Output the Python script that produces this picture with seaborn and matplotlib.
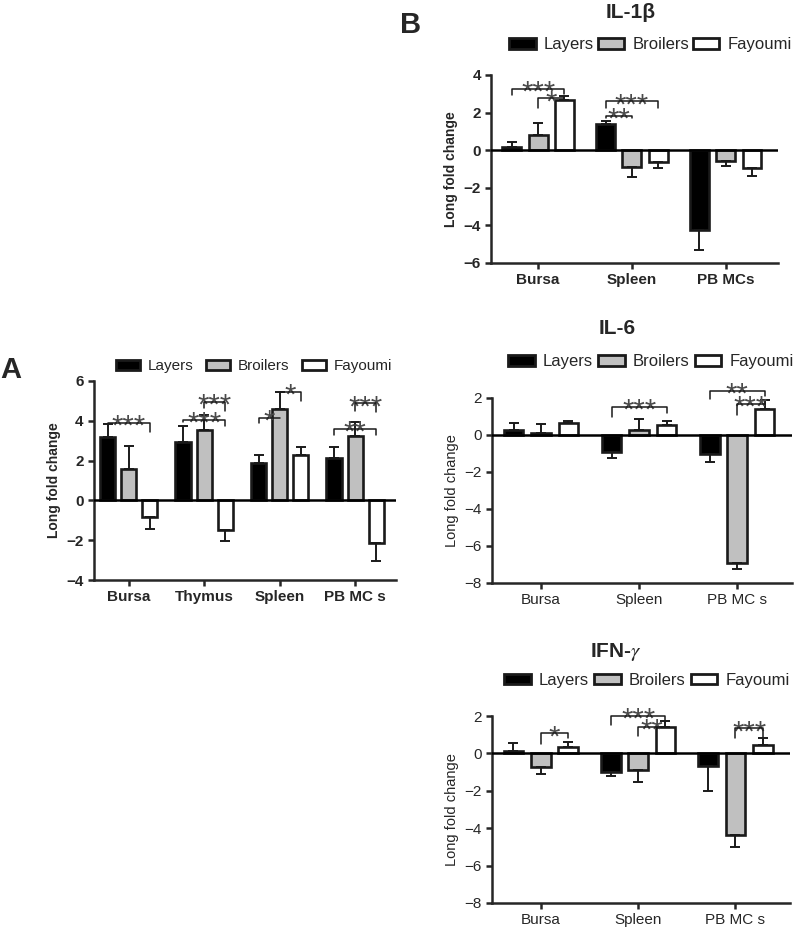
import numpy as np
import pandas as pd
import seaborn as sns
import matplotlib.pyplot as plt
from matplotlib.patches import Patch

sns.set_style("ticks")
plt.rcParams['font.family'] = ['Liberation Sans', 'DejaVu Sans']

breeds = ['Layers', 'Broilers', 'Fayoumi']
colors = ['#000000', '#c0c0c0', '#ffffff']

# Panel A: all tissues
tissues_a = ['Bursa', 'Thymus', 'Spleen', 'PB MC s']
a_layers = [3.17, 2.95, 1.90, 2.12]
a_layers_err = [0.68, 0.78, 0.40, 0.55]
a_broilers = [1.58, 3.55, 4.57, 3.25]
a_broilers_err = [1.17, 0.75, 0.88, 0.70]
a_fayoumi = [-0.82, -1.50, 2.26, -2.14]
a_fayoumi_err = [0.60, 0.54, 0.42, 0.90]

# Panel B: IL-1b
tissues_il1 = ['Bursa', 'Spleen', 'PB MCs']
il1_layers = [0.19, 1.37, -4.23]
il1_layers_err = [0.25, 0.16, 1.09]
il1_broilers = [0.80, -0.92, -0.60]
il1_broilers_err = [0.63, 0.52, 0.23]
il1_fayoumi = [2.69, -0.65, -0.97]
il1_fayoumi_err = [0.17, 0.32, 0.39]

# IL-6
tissues_b = ['Bursa', 'Spleen', 'PB MC s']
il6_layers = [0.27, -0.94, -1.01]
il6_layers_err = [0.40, 0.29, 0.47]
il6_broilers = [0.13, 0.27, -6.90]
il6_broilers_err = [0.47, 0.58, 0.37]
il6_fayoumi = [0.63, 0.54, 1.39]
il6_fayoumi_err = [0.11, 0.20, 0.51]

# IFN-g
ifn_layers = [0.14, -1.00, -0.68]
ifn_layers_err = [0.40, 0.20, 1.32]
ifn_broilers = [-0.75, -0.91, -4.38]
ifn_broilers_err = [0.36, 0.61, 0.62]
ifn_fayoumi = [0.32, 1.43, 0.43]
ifn_fayoumi_err = [0.29, 0.31, 0.41]

# significance brackets: (tissue, from breed, to breed, y, label, left drop, right drop)
a_sig = [(0, 0, 2, 3.9, '***', 0.15, 0.45), (1, 0, 2, 4.06, '***', 0.1, 0.3),
         (1, 1, 2, 4.94, '***', 0.3, 0.45), (2, 0, 1, 4.16, '*', 0.25, 0.0),
         (2, 1, 2, 5.45, '*', 0.0, 0.45), (3, 0, 2, 3.6, '**', 0.3, 0.3),
         (3, 1, 2, 4.87, '***', 0.4, 0.45)]
il1_sig = [(0, 0, 2, 3.26, '***', 0.35, 0.27), (0, 1, 2, 2.75, '*', 0.5, 0.0),
           (1, 0, 2, 2.6, '***', 0.35, 0.35), (1, 0, 1, 1.81, '**', 0.1, 0.12)]
il6_sig = [(1, 0, 2, 1.5, '***', 0.54, 0.3), (2, 0, 2, 2.38, '**', 0.45, 0.3),
           (2, 1, 2, 1.68, '***', 0.6, 0.0)]
ifn_sig = [(0, 1, 2, 1.07, '*', 0.57, 0.27), (1, 0, 2, 2.0, '***', 0.48, 0.3),
           (1, 1, 2, 1.43, '**', 0.5, 0.0), (2, 1, 2, 1.34, '***', 0.5, 0.45)]


def draw_panel(ax, tissues, means, errs, sig, ylim, xlim, bold):
    df = pd.DataFrame({
        'tissue': tissues * 3,
        'breed': [b for b in breeds for _ in tissues],
        'value': np.concatenate(means),
    })
    sns.barplot(data=df, x='tissue', y='value', hue='breed', hue_order=breeds,
                palette=colors, edgecolor='#1a1a1a', linewidth=1.9,
                width=0.84, gap=0.28, errorbar=None, legend=False, ax=ax)
    centers = []
    for cont in list(ax.containers):
        centers.append([p.get_x() + p.get_width() / 2 for p in cont.patches])
    for k, xs in enumerate(centers):
        for x, m, e in zip(xs, means[k], errs[k]):
            yerr = [[0], [e]] if m >= 0 else [[e], [0]]
            ax.errorbar([x], [m], yerr=yerr, fmt='none', ecolor='#1a1a1a',
                        elinewidth=1.4, capsize=3.5, capthick=1.4, zorder=3)
    ax.axhline(0, color='black', lw=1.8, zorder=4)
    for g, i, j, y, lab, dl, dr in sig:
        x1, x2 = centers[i][g], centers[j][g]
        ax.plot([x1, x1, x2, x2], [y - dl, y, y, y - dr], color='#1a1a1a',
                lw=1.1, clip_on=False, zorder=5)
        ax.annotate(lab, xy=((x1 + x2) / 2, y), xytext=(0, -8.5),
                    textcoords='offset points', ha='center', va='baseline',
                    fontsize=21, color='#4a4a4a', annotation_clip=False)
    ax.set_ylim(*ylim)
    ax.set_xlim(*xlim)
    ax.set_yticks(np.arange(ylim[0], ylim[1] + 1, 2))
    w = 'bold' if bold else 'normal'
    ax.set_xlabel('')
    ax.set_ylabel('Long fold change', fontsize=10 if bold else 10.5, fontweight=w)
    ax.tick_params(axis='both', width=1.8, length=4, labelsize=11)
    for t in ax.get_xticklabels() + ax.get_yticklabels():
        t.set_fontweight(w)
    sns.despine(ax=ax)
    for s in ['left', 'bottom']:
        ax.spines[s].set_linewidth(1.8)


def add_legend(ax, x, y, size, spacing):
    handles = [Patch(facecolor=c, edgecolor='#1a1a1a', linewidth=2, label=b)
               for b, c in zip(breeds, colors)]
    ax.legend(handles=handles, loc='center', bbox_to_anchor=(x, y), ncol=3,
              frameon=False, fontsize=size, handlelength=1.6, handleheight=0.6,
              handletextpad=0.5, columnspacing=spacing, borderaxespad=0)


fig = plt.figure(figsize=(8, 9.27), dpi=100)
ax_a = fig.add_axes([0.1175, 0.3743, 0.3775, 0.2147])
ax_il1 = fig.add_axes([0.614, 0.7163, 0.3588, 0.2028])
ax_il6 = fig.add_axes([0.615, 0.3711, 0.375, 0.1996])
ax_ifn = fig.add_axes([0.615, 0.0259, 0.3725, 0.2017])

draw_panel(ax_a, tissues_a, [a_layers, a_broilers, a_fayoumi],
           [a_layers_err, a_broilers_err, a_fayoumi_err], a_sig, (-4, 6), (-0.46, 3.54), True)
draw_panel(ax_il1, tissues_il1, [il1_layers, il1_broilers, il1_fayoumi],
           [il1_layers_err, il1_broilers_err, il1_fayoumi_err], il1_sig, (-6, 4), (-0.5, 2.56), True)
draw_panel(ax_il6, tissues_b, [il6_layers, il6_broilers, il6_fayoumi],
           [il6_layers_err, il6_broilers_err, il6_fayoumi_err], il6_sig, (-8, 2), (-0.5, 2.56), False)
draw_panel(ax_ifn, tissues_b, [ifn_layers, ifn_broilers, ifn_fayoumi],
           [ifn_layers_err, ifn_broilers_err, ifn_fayoumi_err], ifn_sig, (-8, 2), (-0.5, 2.56), False)

add_legend(ax_a, 0.53, 1.075, 11, 0.8)
add_legend(ax_il1, 0.555, 1.16, 12, 0.2)
add_legend(ax_il6, 0.53, 1.195, 12, 0.3)
add_legend(ax_ifn, 0.52, 1.19, 12, 0.3)

ax_il1.text(0.485, 1.33, 'IL-1β', transform=ax_il1.transAxes, ha='center',
            va='center', fontsize=15, fontweight='bold')
ax_il6.text(0.417, 1.378, 'IL-6', transform=ax_il6.transAxes, ha='center',
            va='center', fontsize=15, fontweight='bold')
ax_ifn.text(0.417, 1.342, r'IFN-$\gamma$', transform=ax_ifn.transAxes, ha='center',
            va='center', fontsize=15, fontweight='bold', math_fontfamily='stix')

fig.text(0.0, 1 - 370 / 927, 'A', fontsize=21, fontweight='bold', va='center')
fig.text(0.5, 1 - 25 / 927, 'B', fontsize=21, fontweight='bold', va='center')

fig.savefig('out.png', dpi=100)
